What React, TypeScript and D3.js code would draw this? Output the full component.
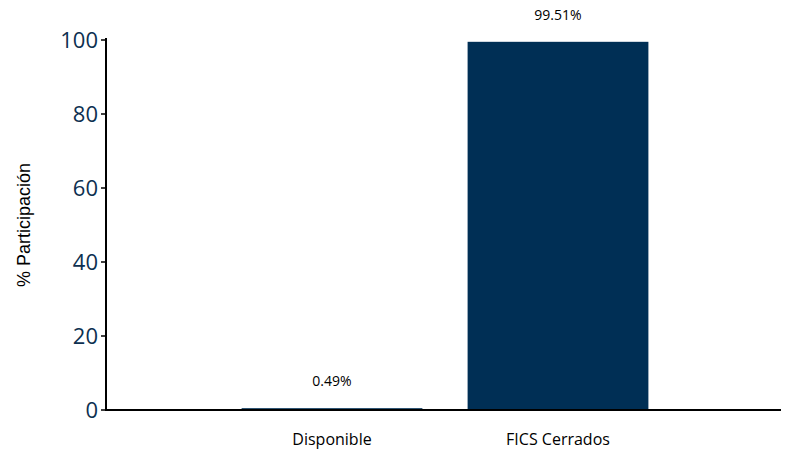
import React from 'react';
import * as d3 from 'd3';

const categories = ['Disponible', 'FICS Cerrados'];
const values = [0.49, 99.51];
const yTicks = [0, 20, 40, 60, 80, 100];

const W = 797;
const H = 457;

export default function App() {
  const y = d3.scaleLinear().domain([0, 100]).range([410, 40]);
  const x = d3
    .scaleBand<string>()
    .domain(categories)
    .range([219, 671])
    .paddingInner(0.2)
    .paddingOuter(0.1);

  return (
    <svg
      width={W}
      height={H}
      style={{ position: 'absolute', left: 0, top: 0, background: '#fff' }}
    >
      {/* y axis */}
      <line x1={106} x2={106} y1={38} y2={411} stroke="#000" strokeWidth={2} />
      {yTicks.map(t => (
        <g key={t}>
          <line x1={101} x2={106} y1={y(t)} y2={y(t)} stroke="#000" strokeWidth={1.5} />
          <text
            x={98}
            y={y(t)}
            dy="0.35em"
            textAnchor="end"
            fontFamily="Open Sans, sans-serif"
            fontSize={22}
            fill="#0d3050"
          >
            {t}
          </text>
        </g>
      ))}
      <text
        transform="translate(30,225) rotate(-90)"
        textAnchor="middle"
        fontFamily="Liberation Sans, Arial, sans-serif"
        fontSize={18}
        fill="#000"
      >
        % Participación
      </text>

      {/* bars */}
      {categories.map((c, i) => (
        <g key={c}>
          <rect
            x={x(c)}
            y={y(values[i])}
            width={x.bandwidth()}
            height={y(0) - y(values[i])}
            fill="#002f55"
          />
          <text
            x={x(c)! + x.bandwidth() / 2}
            y={y(values[i]) - 22}
            textAnchor="middle"
            fontFamily="Open Sans, sans-serif"
            fontSize={14}
            fill="#000"
          >
            {values[i].toFixed(2)}%
          </text>
          <text
            x={x(c)! + x.bandwidth() / 2}
            y={445}
            textAnchor="middle"
            fontFamily="Open Sans, sans-serif"
            fontSize={16}
            fill="#000"
          >
            {c}
          </text>
        </g>
      ))}

      {/* x axis */}
      <line x1={106} x2={781} y1={410} y2={410} stroke="#000" strokeWidth={2} />
    </svg>
  );
}
